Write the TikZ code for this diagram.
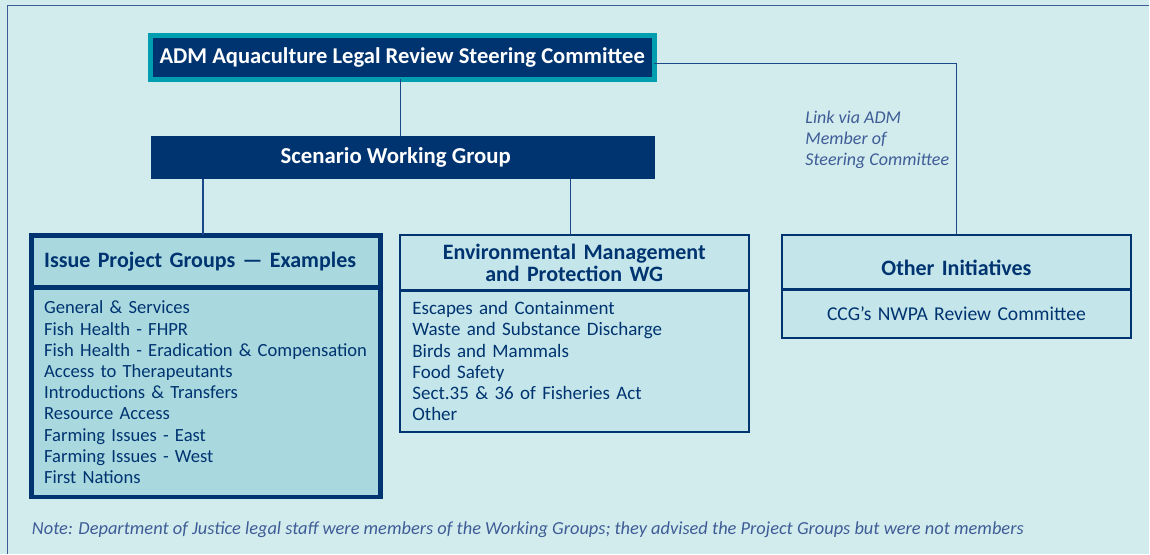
\documentclass[tikz,border=0pt]{standalone}
\usepackage{fontspec}
\setmainfont{Carlito}
\usetikzlibrary{positioning}

\definecolor{navy}{RGB}{0,52,112}
\definecolor{admteal}{RGB}{0,158,174}
\definecolor{paper}{RGB}{210,236,238}
\definecolor{ipgfill}{RGB}{169,216,223}
\definecolor{grpfill}{RGB}{196,229,234}
\definecolor{wire}{RGB}{28,72,138}
\definecolor{slate}{RGB}{62,92,150}

\begin{document}
\begin{tikzpicture}[
      x=1pt, y=-1pt,
      nodes={inner sep=0pt, outer sep=0pt, text=navy,
        font=\fontsize{19}{21.2}\selectfont},
      topbox/.style={fill=navy, draw=admteal, line width=5pt, text=white,
        minimum width=504pt, minimum height=44pt,
        font=\fontsize{22.6}{24}\selectfont\bfseries},
      wgbox/.style={fill=navy, text=white, minimum width=504pt,
        minimum height=43pt, font=\fontsize{22.8}{24}\selectfont\bfseries},
      grphead/.style={draw=navy, fill=grpfill, line width=1.8pt,
        text width=324pt, inner xsep=12.5pt, align=center,
        font=\fontsize{22}{21.2}\selectfont\bfseries},
      grpbody/.style={draw=navy, fill=grpfill, line width=1.8pt,
        text width=324pt, inner xsep=12.5pt, align=left},
      divider/.style={draw=navy, line width=3pt},
      conn/.style={draw=wire, line width=1.2pt},
      aside/.style={text=slate, font=\fontsize{18}{21.2}\selectfont\itshape}
      ]

  % page and frame
  \fill[paper] (0,0) rectangle (1150,554);
  \draw[slate, line width=1.5pt] (7.5,554) |- (1150,5.5);

  \node[topbox] (adm) at (402.5,57.5) {ADM Aquaculture Legal Review Steering Committee};
  \node[wgbox] (swg) at (403,157.5) {\hspace*{-14pt}Scenario Working Group};

  % issue project groups
  \node[grphead, fill=ipgfill, line width=4.5pt, align=left,
        minimum height=52pt] (ipghead) at (206.2,261.5)
        {Issue Project Groups --- Examples};
  \node[grpbody, fill=ipgfill, line width=4.5pt, minimum height=210pt,
        font=\fontsize{18.6}{21.2}\selectfont,
        below=0pt of ipghead] (ipgbody) {General \& Services\\
        Fish Health - FHPR\\
        Fish Health - Eradication \& Compensation\\
        Access to Therapeutants\\
        Introductions \& Transfers\\
        Resource Access\\
        Farming Issues - East\\
        Farming Issues - West\\
        First Nations};

  % environmental WG
  \node[grphead, minimum height=55pt] (envhead) at (574.6,263)
        {Environmental Management\\and Protection WG};
  \node[grpbody, minimum height=141.7pt, below=0pt of envhead] (envbody)
        {Escapes and Containment\\
        Waste and Substance Discharge\\
        Birds and Mammals\\
        Food Safety\\
        Sect.35 \& 36 of Fisheries Act\\
        Other};
  \draw[divider] (envhead.south west) -- (envhead.south east);

  % other initiatives
  \node[grphead, minimum height=54.8pt, text height=30pt, text depth=4pt]
        (othhead) at (957,262.6) {Other Initiatives};
  \node[grpbody, align=center, minimum height=48.2pt, below=0pt of othhead]
        (othbody) {\fontsize{19.6}{21.2}\selectfont CCG's NWPA Review Committee};
  \draw[divider] (othhead.south west) -- (othhead.south east);

  \node[aside, align=left, anchor=west] (link) at (806,140)
        {Link via ADM\\Member of\\Steering Committee};
  \node[aside, font=\fontsize{18.4}{21.2}\selectfont\itshape, anchor=west]
        (note) at (32,530.5)
        {Note: Department of Justice legal staff were members of the Working Groups; they advised the Project Groups but were not members};

  % Connect the nodes
  \draw[conn] ([xshift=-2pt]adm.south) -- ([xshift=-2pt]adm.south |- swg.north);
  \draw[conn] ([xshift=-3pt]ipghead.north) -- ([xshift=-3pt]ipghead.north |- swg.south);
  \draw[conn] ([xshift=-3.6pt]envhead.north) -- ([xshift=-3.6pt]envhead.north |- swg.south);
  \draw[conn] ([yshift=-6pt]adm.east) -| (othhead.north);

\end{tikzpicture}
\end{document}
